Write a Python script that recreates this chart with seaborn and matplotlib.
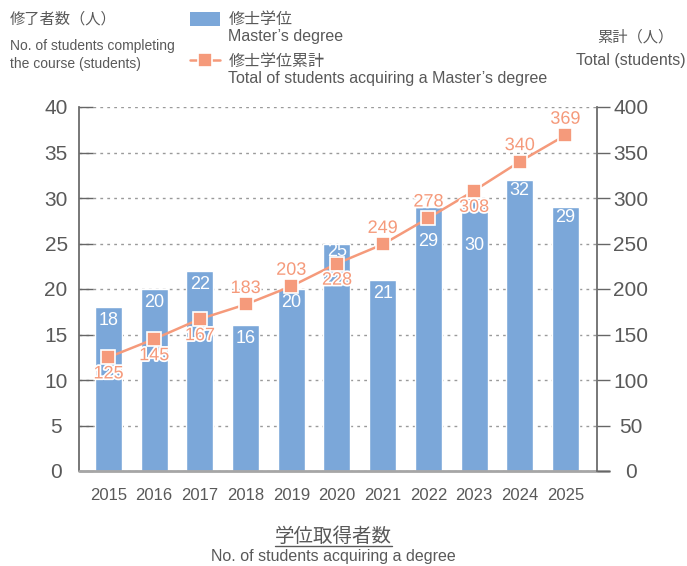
import matplotlib
matplotlib.use("Agg")
import matplotlib.pyplot as plt
import matplotlib.patheffects as pe
import pandas as pd
import seaborn as sns
from matplotlib.lines import Line2D
from matplotlib.patches import Patch

YEARS = ["2015", "2016", "2017", "2018", "2019", "2020",
         "2021", "2022", "2023", "2024", "2025"]
MASTERS = [18, 20, 22, 16, 20, 25, 21, 29, 30, 32, 29]
CUMULATIVE = [125, 145, 167, 183, 203, 228, 249, 278, 308, 340, 369]
# whether each cumulative label sits above (True) or below (False) its marker
CUM_LABEL_ABOVE = [False, False, False, True, True, False,
                   True, True, False, True, True]
# how far (pt) each bar label sits below the top of its bar
BAR_LABEL_DROP = [9.5, 9.5, 10, 9.5, 9.5, 5.5, 10, 25, 34, 7.5, 7.5]
LEFT_TICKS = list(range(0, 45, 5))
RIGHT_TICKS = list(range(0, 450, 50))

BLUE = "#7BA7D9"
SALMON = "#F59A7B"
TEXT = "#595959"
SPINE = "#666666"

W, H = 687, 566

sns.set_theme(style="white")
plt.rcParams["font.family"] = ["Liberation Sans", "Noto Sans CJK JP"]

df = pd.DataFrame({"year": YEARS, "masters": MASTERS, "total": CUMULATIVE})

fig = plt.figure(figsize=(W / 100, H / 100), dpi=100)
ax = fig.add_axes([79 / W, 1 - 471 / H, (597 - 79) / W, 364 / H])

sns.barplot(data=df, x="year", y="masters", color=BLUE, saturation=1,
            width=0.59, errorbar=None, ax=ax)
ax.set_ylim(0, 40)
ax.set_yticks(LEFT_TICKS)
ax.set_axisbelow(True)
ax.yaxis.grid(True, linestyle=(0, (2, 3)), color="#9a9a9a", linewidth=1)
ax.set_xlabel("")
ax.set_ylabel("")

for i, (v, drop) in enumerate(zip(MASTERS, BAR_LABEL_DROP)):
    ax.annotate(str(v), (i, v), xytext=(0, -drop), textcoords="offset points",
                ha="center", va="center", color="white", fontsize=13)

ax2 = ax.twinx()
sns.pointplot(data=df, x="year", y="total", color=SALMON, markers="s",
              errorbar=None, markersize=10, linewidth=1.8,
              markeredgecolor="white", markeredgewidth=1.2, ax=ax2)
ax2.set_ylim(0, 400)
ax2.set_yticks(RIGHT_TICKS)
ax2.set_ylabel("")
ax2.set_xlabel("")

halo = [pe.withStroke(linewidth=2.5, foreground="white")]
for i, (v, up) in enumerate(zip(CUMULATIVE, CUM_LABEL_ABOVE)):
    ax2.annotate(str(v), (i, v), xytext=(0, 11.5 if up else -12),
                 textcoords="offset points", ha="center", va="center",
                 color=SALMON, fontsize=13, path_effects=halo)

ax.set_xlim(-0.645, 10.69)

for a in (ax, ax2):
    for s in ("top", "bottom"):
        a.spines[s].set_visible(False)
ax.spines["right"].set_visible(False)
ax2.spines["left"].set_visible(False)
ax.spines["left"].set_color(SPINE)
ax2.spines["right"].set_color(SPINE)

# tick labels are centred on a fixed column on each side
ax.tick_params(axis="y", direction="in", length=10, width=1, color=SPINE,
               labelsize=15, labelcolor=TEXT, pad=16.5, left=True)
ax2.tick_params(axis="y", direction="out", length=9, width=1, color=SPINE,
                labelsize=15, labelcolor=TEXT, pad=15.3, right=True)
for lbl in ax.get_yticklabels() + ax2.get_yticklabels():
    lbl.set_horizontalalignment("center")
ax.tick_params(axis="x", length=0, pad=12, labelsize=12, labelcolor=TEXT)

# base line runs a little past the right spine
ax.axhline(0, xmin=0, xmax=1.023, color="#a6a6a6", linewidth=2,
           clip_on=False, zorder=5)


def ftext(x, y, s, **kw):
    return fig.text(x / W, 1 - y / H, s, color=TEXT, va="center", **kw)


ftext(10, 19, "修了者数（人）", fontsize=11)
ftext(10, 46, "No. of students completing", fontsize=10)
ftext(10, 64, "the course (students)", fontsize=10)

handles = [
    Patch(facecolor=BLUE, edgecolor="none"),
    Line2D([], [], color=SALMON, marker="s", markersize=10.5, linewidth=1.8,
           markeredgecolor="white", markeredgewidth=1.2),
]
fig.legend(handles, ["修士学位", "修士学位累計"], loc="upper left",
           bbox_to_anchor=(190 / W, 1 - 12 / H), frameon=False,
           fontsize=11.5, labelcolor=TEXT, labelspacing=1.65,
           handlelength=1.9, handleheight=0.95, handletextpad=0.5,
           borderpad=0, borderaxespad=0)
ftext(228, 37, "Master’s degree", fontsize=11.5)
ftext(228, 78, "Total of students acquiring a Master’s degree", fontsize=11.5)

ftext(673, 37, "累計（人）", fontsize=11, ha="right")
ftext(686, 60, "Total (students)", fontsize=11.5, ha="right")

title = ftext(333, 537, "学位取得者数", fontsize=14, ha="center")
ftext(333, 557, "No. of students acquiring a degree", fontsize=11.5,
      ha="center")

fig.canvas.draw()
bb = title.get_window_extent().transformed(fig.transFigure.inverted())
fig.add_artist(Line2D([bb.x0, bb.x1], [bb.y0 + 0.001, bb.y0 + 0.001],
                      transform=fig.transFigure, color=TEXT, linewidth=1))

fig.savefig("out.png", dpi=100)
